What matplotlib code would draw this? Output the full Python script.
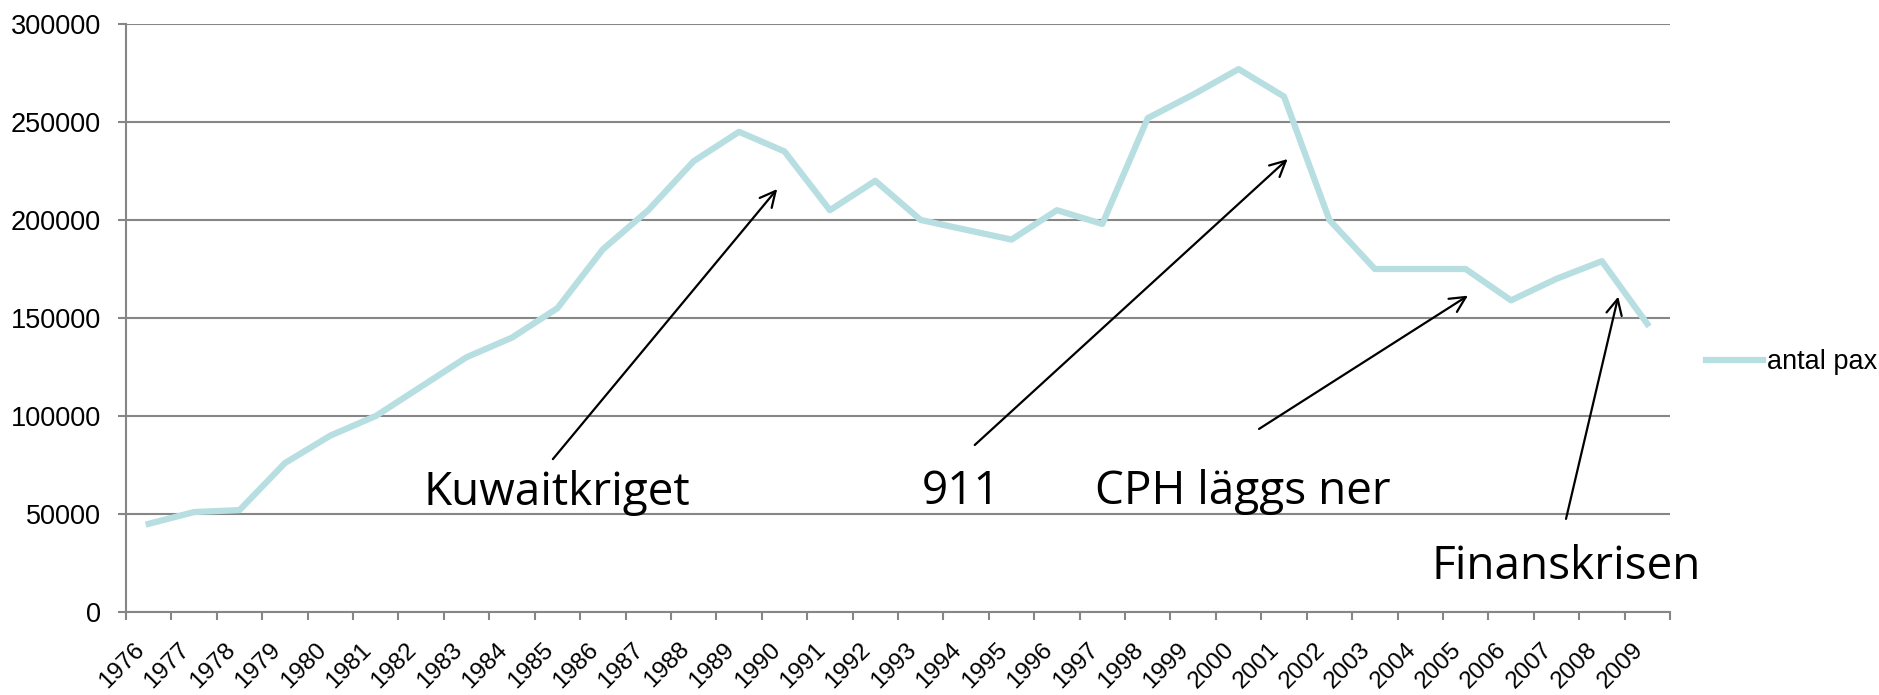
import matplotlib
matplotlib.use("Agg")
import matplotlib.pyplot as plt
import numpy as np

years = [str(y) for y in range(1976, 2010)]
pax = [45000, 51000, 52000, 76000, 90000, 100000, 115000, 130000, 140000, 155000,
       185000, 205000, 230000, 245000, 235000, 205000, 220000, 200000, 195000, 190000,
       205000, 198000, 252000, 264000, 277000, 263000, 200000, 175000, 175000, 175000,
       159000, 170000, 179000, 147000]
series_name = "antal pax"

# notes: label, text position, arrow tail, arrow head (category index, value)
notes = [
    ("Kuwaitkriget", (8.99, 54600), (8.90, 78000), (13.84, 215800)),
    ("911", (17.89, 55100), (18.19, 85200), (25.08, 231100)),
    ("CPH läggs ner", (24.10, 55100), (24.45, 93400), (29.05, 161400)),
    ("Finanskrisen", (31.21, 17000), (31.21, 47500), (32.36, 160900)),
]

grey = "#868686"
fig = plt.figure(figsize=(18.79, 6.95), dpi=100)
ax = fig.add_axes([126 / 1879, 1 - 612 / 695, (1670 - 126) / 1879, (612 - 24) / 695])

x = np.arange(len(years))
ax.plot(x, pax, color="#b7dee0", lw=4.5, label=series_name)

ax.set_xlim(-0.5, len(years) - 0.5)
ax.set_ylim(0, 300000)
ax.set_yticks(range(0, 300001, 50000))
ax.yaxis.grid(True, color=grey, lw=1.5)
ax.set_axisbelow(True)

ax.set_xticks(x)
ax.set_xticklabels(years, rotation=45, ha="right", va="top")
ax.set_xticks(np.arange(len(years) + 1) - 0.5, minor=True)
ax.tick_params(axis="x", which="major", length=0, pad=19)
ax.tick_params(axis="x", which="minor", length=6, width=1.5, color=grey)
ax.tick_params(axis="y", length=6, width=1.5, color=grey, pad=12)
for lab in ax.get_xticklabels():
    lab.set_fontfamily("Liberation Sans")
    lab.set_fontsize(17.5)
for lab in ax.get_yticklabels():
    lab.set_fontfamily("Liberation Sans")
    lab.set_fontsize(19.5)

for side in ["top", "right"]:
    ax.spines[side].set_visible(False)
for side in ["left", "bottom"]:
    ax.spines[side].set_color(grey)
    ax.spines[side].set_linewidth(1.5)

for label, tpos, tail, head in notes:
    ax.text(tpos[0], tpos[1], label, ha="center", va="baseline",
            fontsize=33, family="Open Sans", color="black")
    ax.annotate("", xy=head, xytext=tail,
                arrowprops=dict(arrowstyle="->", lw=1.6, color="black",
                                mutation_scale=28, shrinkA=0, shrinkB=0))

leg = fig.legend(loc="center left", bbox_to_anchor=(1706 / 1879, 1 - 362 / 695),
                 frameon=False, handlelength=2.1, handletextpad=0.15,
                 borderpad=0, borderaxespad=0,
                 prop={"family": "Liberation Sans", "size": 19.5})

fig.savefig("out.png", dpi=100)
